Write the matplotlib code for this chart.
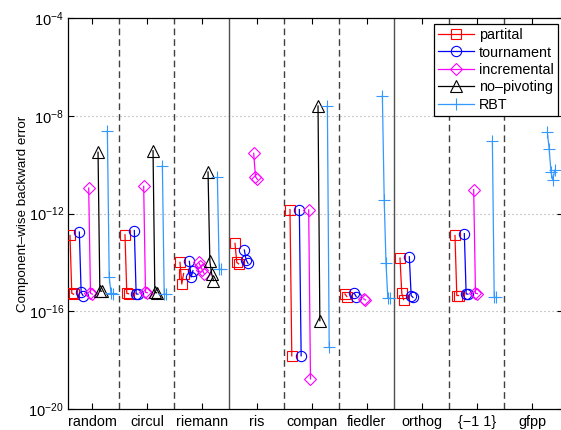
import numpy as np
import matplotlib
matplotlib.use('Agg')
import matplotlib.pyplot as plt

plt.rcParams['font.family'] = ['Liberation Sans', 'DejaVu Sans']
plt.rcParams['mathtext.fontset'] = 'custom'
plt.rcParams['mathtext.rm'] = 'Liberation Sans'
plt.rcParams['mathtext.it'] = 'Liberation Sans:italic'
plt.rcParams['mathtext.bf'] = 'Liberation Sans:bold'

categories = ['random', 'circul', 'riemann', 'ris', 'compan', 'fiedler', 'orthog', '{−1 1}', 'gfpp']
method_names = ['partital', 'tournament', 'incremental', 'no–pivoting', 'RBT']

N = None
partial = [
    [1.26e-13, 5.4e-16, 5.0e-16],
    [1.35e-13, 5.4e-16, 5.2e-16],
    [1.0e-14, 1.3e-15, 3.5e-15],
    [6.0e-14, 1.0e-14, 8.7e-15],
    [1.45e-12, 1.5e-18],
    [5.1e-16, 4.0e-16],
    [1.5e-14, 5.4e-16, 3.0e-16],
    [1.26e-13, 4.4e-16, 4.4e-16],
    N,
]
tournament = [
    [1.74e-13, 5.9e-16, 4.4e-16],
    [2.0e-13, 5.1e-16, 5.0e-16],
    [1.1e-14, 2.5e-15, 4.6e-15],
    [3.2e-14, 1.26e-14, 9.1e-15],
    [1.45e-12, 1.5e-18],
    [5.4e-16, 4.0e-16],
    [1.7e-14, 4.4e-16, 3.7e-16],
    [1.5e-13, 5.1e-16, 5.0e-16],
    N,
]
incremental = [
    [1.1e-11, 5.4e-16, 5.0e-16],
    [1.3e-11, 5.9e-16, 5.7e-16],
    [1.0e-14, 7.0e-15, 4.9e-15, 3.5e-15],
    [2.9e-10, 3.2e-11, 2.5e-11],
    [1.4e-12, 1.7e-19],
    [3.2e-16, 2.9e-16],
    N,
    [9.5e-12, 5.4e-16, 5.3e-16],
    N,
]
no_pivoting = [
    [3.2e-10, 6.9e-16, 6.6e-16],
    [3.7e-10, 5.9e-16, 5.7e-16],
    [5.0e-11, 1.1e-14, 3.4e-15, 1.8e-15],
    N,
    [2.5e-8, 4.1e-17],
    N,
    N,
    N,
    N,
]
rbt = [
    [2.35e-9, 2.6e-15, 5.4e-16, 5.3e-16],
    [8.9e-11, 5.1e-16, 5.0e-16],
    [3.0e-11, 5.4e-15, 5.2e-15],
    N,
    [2.5e-8, 3.5e-18],
    [6.6e-8, 3.7e-12, 9.1e-15, 3.4e-16, 3.4e-16],
    N,
    [9.1e-10, 3.7e-16, 3.7e-16],
    [2.1e-9, 4.2e-10, 5.0e-11, 2.3e-11, 5.9e-11],
]

series = [partial, tournament, incremental, no_pivoting, rbt]
colors = ['#ff0000', '#0000ff', '#ff00ff', '#000000', '#3399ff']
markers = ['s', 'o', 'D', '^', '+']
msizes = [6.8, 7.4, 6.0, 8.8, 8.8]
offsets = [-0.40, -0.23, -0.06, 0.11, 0.28]
step = 0.033

fig = plt.figure(figsize=(5.61, 4.30), dpi=100)
ax = fig.add_axes([68 / 561, (430 - 409) / 430, 495 / 561, 391 / 430])
ax.set_yscale('log')
ax.set_xlim(0.564, 9.564)
ax.set_ylim(1e-20, 1e-4)

# grid lines (horizontal, dotted)
for yv in [1e-16, 1e-12, 1e-8]:
    ax.axhline(yv, color='#a0a0a0', lw=0.8, ls=(0, (1, 2.6)), zorder=0)

# separators
solid_after = [3, 6]
for i in range(1, len(categories)):
    if i in solid_after:
        ax.axvline(i + 0.5, color='#505050', lw=1.0, zorder=1)
    else:
        ax.axvline(i + 0.5, color='#404040', lw=1.0, ls=(0, (4.8, 2.9)), zorder=1)

handles = []
for m, data in enumerate(series):
    h = None
    for k, vals in enumerate(data):
        if vals is None:
            continue
        xs = (k + 1) + offsets[m] + step * np.arange(len(vals))
        line, = ax.plot(xs, vals, color=colors[m], lw=0.9, marker=markers[m],
                        ms=msizes[m], mfc='none', mec=colors[m], mew=0.8, zorder=3)
        if h is None:
            h = line
    handles.append(h)

ax.set_xticks(np.arange(1, len(categories) + 1))
ax.set_xticklabels(categories, fontsize=10.4)
ax.set_yticks([1e-20, 1e-16, 1e-12, 1e-8, 1e-4])
ax.set_yticklabels([r'$10^{-20}$', r'$10^{-16}$', r'$10^{-12}$', r'$10^{-8}$', r'$10^{-4}$'], fontsize=10.5)
ax.minorticks_off()
ax.tick_params(axis='both', direction='in', length=4, width=0.8, top=True, right=True)
ax.tick_params(axis='x', pad=4)
ax.tick_params(axis='y', pad=3)
for s in ax.spines.values():
    s.set_linewidth(0.9)

ax.set_ylabel('Component–wise backward error', fontsize=9.6)
ax.yaxis.set_label_coords(-0.079, 0.5)

leg = ax.legend(handles, method_names, loc='upper right',
                bbox_to_anchor=(558 / 561, 1 - 24 / 430), bbox_transform=fig.transFigure,
                borderaxespad=0, fancybox=False, edgecolor='black', framealpha=1,
                fontsize=10.4, handlelength=2.5, labelspacing=0.24, borderpad=0.28,
                handletextpad=0.35)
leg.get_frame().set_linewidth(0.9)

fig.savefig('out.png', dpi=100)
